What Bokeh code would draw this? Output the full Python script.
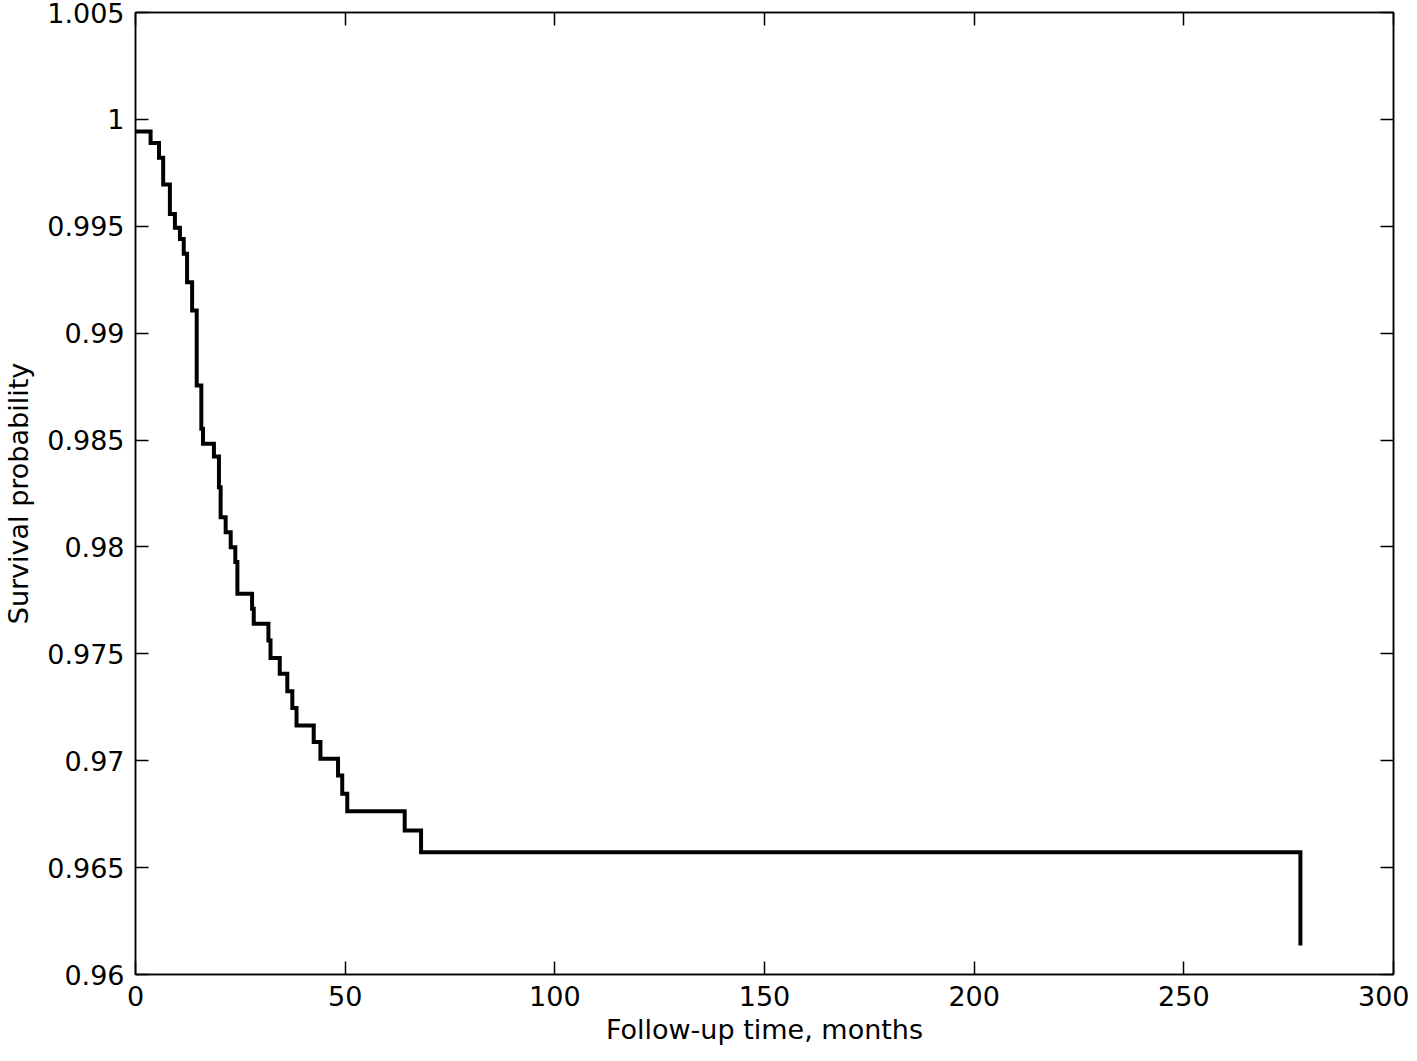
from bokeh.plotting import figure
from bokeh.models import Range1d, LinearAxis, FixedTicker, CustomJSTickFormatter
from bokeh.embed import file_html
from bokeh.resources import INLINE

# Kaplan-Meier step curve (time in months, survival after that time)
times = [0, 3.6, 5.6, 6.6, 8.2, 9.4, 10.6, 11.5, 12.3, 13.5, 14.6, 15.7, 16.1, 18.7,
         19.9, 20.3, 21.5, 22.7, 23.8, 24.3, 27.8, 28.2, 31.7, 32.2, 34.4, 36.2, 37.4,
         38.4, 42.5, 44.1, 48.3, 49.3, 50.5, 64.2, 68.1, 277.8]
survival = [0.99943, 0.99889, 0.99820, 0.99695, 0.99558, 0.99493, 0.99440, 0.99371,
            0.99238, 0.99106, 0.98755, 0.98553, 0.98483, 0.98423, 0.98279, 0.98139,
            0.98069, 0.97999, 0.97929, 0.97781, 0.97711, 0.97641, 0.97562, 0.97481,
            0.97407, 0.97325, 0.97247, 0.97165, 0.97087, 0.97009, 0.96931, 0.96845,
            0.96764, 0.96674, 0.96572, 0.96136]

x_ticks = [0, 50, 100, 150, 200, 250, 300]
y_ticks = [0.96, 0.965, 0.97, 0.975, 0.98, 0.985, 0.99, 0.995, 1.0, 1.005]
x_label = "Follow-up time, months"
y_label = "Survival probability"

FONT = "DejaVu Sans"
FS = "27px"

p = figure(width=1409, height=1053, output_backend="svg", toolbar_location=None,
           x_range=Range1d(0, 300), y_range=Range1d(0.96, 1.005),
           min_border_left=135, min_border_right=16, min_border_top=12, min_border_bottom=79,
           x_axis_label=x_label, y_axis_label=y_label)

p.step(times, survival, mode="after", line_color="black", line_width=4, line_join="miter")

p.grid.visible = False
p.outline_line_color = "black"
p.outline_line_width = 1.5
p.background_fill_color = "white"
p.border_fill_color = "white"

yfmt = CustomJSTickFormatter(code="return Number(tick.toFixed(3)).toString();")

for ax in p.xaxis:
    ax.ticker = FixedTicker(ticks=x_ticks)
for ax in p.yaxis:
    ax.ticker = FixedTicker(ticks=y_ticks)
    ax.formatter = yfmt

for ax in list(p.xaxis) + list(p.yaxis):
    ax.axis_line_color = "black"
    ax.axis_line_width = 1.5
    ax.major_tick_in = 13
    ax.major_tick_out = 0
    ax.major_tick_line_width = 1.5
    ax.minor_tick_in = 0
    ax.minor_tick_out = 0
    ax.major_label_text_font = FONT
    ax.major_label_text_font_size = FS
    ax.major_label_text_color = "black"
    ax.axis_label_text_font = FONT
    ax.axis_label_text_font_size = FS
    ax.axis_label_text_font_style = "normal"
    ax.axis_label_text_color = "black"

p.xaxis.major_label_standoff = 11
p.xaxis.axis_label_standoff = 5
p.yaxis.major_label_standoff = 11
p.yaxis.axis_label_standoff = 10

blank = CustomJSTickFormatter(code="return '';")
top = LinearAxis(ticker=FixedTicker(ticks=x_ticks), formatter=blank,
                 major_tick_in=13, major_tick_out=0, minor_tick_in=0, minor_tick_out=0,
                 axis_line_color="black", axis_line_width=1.5, major_tick_line_width=1.5,
                 major_label_standoff=0)
right = LinearAxis(ticker=FixedTicker(ticks=y_ticks), formatter=blank,
                   major_tick_in=13, major_tick_out=0, minor_tick_in=0, minor_tick_out=0,
                   axis_line_color="black", axis_line_width=1.5, major_tick_line_width=1.5,
                   major_label_standoff=0)
p.add_layout(top, "above")
p.add_layout(right, "right")

open("out.html", "w").write(file_html(p, INLINE))
